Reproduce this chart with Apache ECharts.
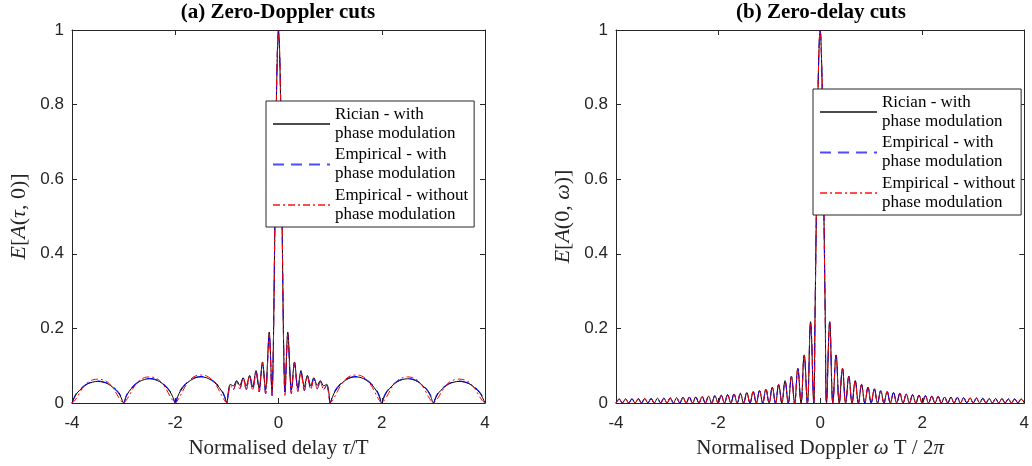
<!DOCTYPE html>
<html>
<head>
<meta charset="utf-8">
<script src="https://cdn.jsdelivr.net/npm/echarts@6/dist/echarts.min.js"></script>
<style>
  html, body { margin: 0; padding: 0; background: #fff; }
  #chart { width: 1032px; height: 466px; }
</style>
</head>
<body>
<div id="chart"></div>
<script>
// ---------- Zero-Doppler cut: E[A(tau,0)], values for tau >= 0 (curve is symmetric) ----------
const delayRicianCenter = [
  [0, 1], [0.025, 0.92], [0.05, 0.72], [0.075, 0.42], [0.1, 0.15], [0.125, 0.03],
  [0.18, 0.19], [0.25, 0.035], [0.31, 0.11], [0.375, 0.04], [0.435, 0.087], [0.5, 0.043],
  [0.56, 0.074], [0.625, 0.046], [0.685, 0.068], [0.75, 0.047], [0.81, 0.06], [0.875, 0.046],
  [0.935, 0.05], [0.975, 0.028], [1, 0]
];
const delayEmpiricalCenter = [
  [0, 1], [0.025, 0.93], [0.05, 0.73], [0.075, 0.43], [0.1, 0.15], [0.125, 0.02],
  [0.18, 0.185], [0.25, 0.025], [0.31, 0.108], [0.375, 0.03], [0.435, 0.085], [0.5, 0.033],
  [0.56, 0.072], [0.625, 0.036], [0.685, 0.066], [0.75, 0.038], [0.81, 0.058], [0.875, 0.036],
  [0.935, 0.048], [0.975, 0.02], [1, 0]
];
const delayRicianArches = [
  [1.05, 0.018], [1.1, 0.032], [1.2, 0.05], [1.3, 0.061], [1.4, 0.068], [1.5, 0.07],
  [1.6, 0.068], [1.7, 0.061], [1.8, 0.05], [1.9, 0.032], [1.95, 0.018], [2, 0],
  [2.05, 0.017], [2.1, 0.03], [2.2, 0.046], [2.3, 0.057], [2.4, 0.063], [2.5, 0.065],
  [2.6, 0.063], [2.7, 0.057], [2.8, 0.046], [2.9, 0.03], [2.95, 0.017], [3, 0],
  [3.05, 0.015], [3.1, 0.027], [3.2, 0.041], [3.3, 0.051], [3.4, 0.056], [3.5, 0.058],
  [3.6, 0.056], [3.7, 0.051], [3.8, 0.041], [3.9, 0.027], [3.95, 0.015], [4, 0]
];
const delayPhaseModArches = [
  [1.05, 0.021], [1.1, 0.035], [1.2, 0.052], [1.3, 0.063], [1.4, 0.069], [1.5, 0.071],
  [1.6, 0.069], [1.7, 0.063], [1.8, 0.052], [1.9, 0.035], [1.95, 0.021], [2, 0],
  [2.05, 0.02], [2.1, 0.032], [2.2, 0.048], [2.3, 0.058], [2.4, 0.064], [2.5, 0.066],
  [2.6, 0.064], [2.7, 0.058], [2.8, 0.048], [2.9, 0.032], [2.95, 0.02], [3, 0],
  [3.05, 0.018], [3.1, 0.029], [3.2, 0.043], [3.3, 0.052], [3.4, 0.057], [3.5, 0.059],
  [3.6, 0.057], [3.7, 0.052], [3.8, 0.043], [3.9, 0.029], [3.95, 0.018], [4, 0]
];
const delayNoPhaseModArches = [
  [1.05, 0.008], [1.1, 0.02], [1.2, 0.046], [1.3, 0.064], [1.4, 0.073], [1.5, 0.075],
  [1.6, 0.073], [1.7, 0.064], [1.8, 0.046], [1.9, 0.02], [1.95, 0.008], [2, 0],
  [2.05, 0.007], [2.1, 0.018], [2.2, 0.043], [2.3, 0.06], [2.4, 0.068], [2.5, 0.07],
  [2.6, 0.068], [2.7, 0.06], [2.8, 0.043], [2.9, 0.018], [2.95, 0.007], [3, 0],
  [3.05, 0.006], [3.1, 0.016], [3.2, 0.039], [3.3, 0.055], [3.4, 0.062], [3.5, 0.064],
  [3.6, 0.062], [3.7, 0.055], [3.8, 0.039], [3.9, 0.016], [3.95, 0.006], [4, 0]
];

// ---------- Zero-delay cut: E[A(0,omega)], values for omega >= 0 ----------
const dopplerMainLobe = [[0, 1], [0.025, 0.935], [0.05, 0.757], [0.075, 0.5], [0.1, 0.234], [0.125, 0]];
const dopplerLobeStep = 0.125;   // spacing of the sidelobe nulls
const dopplerRicianPeaks = [
  0.218, 0.129, 0.092, 0.072, 0.060, 0.049, 0.042, 0.037, 0.033, 0.030, 0.028,
  0.025, 0.024, 0.022, 0.021, 0.019, 0.018, 0.017, 0.016, 0.016, 0.015, 0.014,
  0.014, 0.013, 0.013, 0.012, 0.012, 0.012, 0.011, 0.011, 0.011
];
const dopplerEmpiricalPeaks = [
  0.216, 0.128, 0.093, 0.071, 0.059, 0.050, 0.042, 0.038, 0.033, 0.031, 0.027,
  0.026, 0.023, 0.022, 0.020, 0.020, 0.018, 0.018, 0.016, 0.015, 0.015, 0.014,
  0.013, 0.013, 0.012, 0.012, 0.012, 0.011, 0.011, 0.011, 0.010
];

const seriesNames = [
  'Rician - with phase modulation',
  'Empirical - with phase modulation',
  'Empirical - without phase modulation'
];
// legend text, broken over two lines
const legendLabels = {
  'Rician - with phase modulation': 'Rician - with\nphase modulation',
  'Empirical - with phase modulation': 'Empirical - with\nphase modulation',
  'Empirical - without phase modulation': 'Empirical - without\nphase modulation'
};
const axisRange = { xMin: -4, xMax: 4, xStep: 2, yMin: 0, yMax: 1, yStep: 0.2 };

// ---------- helpers ----------
function mirror(pts) {
  const neg = pts.slice(1).map(p => [-p[0], p[1]]).reverse();
  return neg.concat(pts);
}
function dopplerCurve(peaks) {
  const pts = dopplerMainLobe.slice();
  peaks.forEach((v, i) => {
    const k = i + 1;
    pts.push([(k + 0.5) * dopplerLobeStep, v]);
    pts.push([(k + 1) * dopplerLobeStep, 0]);
  });
  return mirror(pts);
}

const axisColor = '#262626';
const serif = '"Liberation Serif", "Times New Roman", serif';
const sans = '"Liberation Sans", Arial, Helvetica, sans-serif';
function mathRich(size) {
  return {
    i: { fontFamily: serif, fontStyle: 'italic', fontSize: size, color: axisColor },
    n: { fontFamily: serif, fontSize: size, color: axisColor }
  };
}

function xAxesFor(grid, name) {
  const base = {
    type: 'value', gridIndex: grid, min: axisRange.xMin, max: axisRange.xMax, interval: axisRange.xStep,
    axisLine: { onZero: false, lineStyle: { color: axisColor, width: 1 } },
    axisTick: { inside: true, length: 5, lineStyle: { color: axisColor, width: 1 } },
    splitLine: { show: false }
  };
  return [
    Object.assign({}, base, {
      position: 'bottom',
      axisLabel: { fontFamily: sans, fontSize: 17, color: axisColor, margin: 12 },
      name: name, nameLocation: 'middle', nameGap: 35,
      nameTextStyle: { fontFamily: serif, fontSize: 21, color: axisColor, rich: mathRich(21) }
    }),
    Object.assign({}, base, { position: 'top', axisLabel: { show: false } })
  ];
}
function yAxesFor(grid, name) {
  const base = {
    type: 'value', gridIndex: grid, min: axisRange.yMin, max: axisRange.yMax, interval: axisRange.yStep,
    axisLine: { onZero: false, lineStyle: { color: axisColor, width: 1 } },
    axisTick: { inside: true, length: 5, lineStyle: { color: axisColor, width: 1 } },
    splitLine: { show: false }
  };
  return [
    Object.assign({}, base, {
      position: 'left',
      axisLabel: { fontFamily: sans, fontSize: 17, color: axisColor, margin: 8 },
      name: name, nameLocation: 'middle', nameGap: 42,
      nameTextStyle: { fontFamily: serif, fontSize: 22, color: axisColor, rich: mathRich(22) }
    }),
    Object.assign({}, base, { position: 'right', axisLabel: { show: false } })
  ];
}

const lineStyles = [
  { color: '#000000', width: 1, type: 'solid' },
  { color: '#0000ff', width: 1, type: [11, 7] },
  { color: '#ff0000', width: 1, type: [7, 3, 2, 3] }
];
function makeSeries(axisIdx, curves, smooth) {
  return curves.map((data, i) => ({
    type: 'line', name: seriesNames[i], xAxisIndex: axisIdx, yAxisIndex: axisIdx,
    data: data, symbol: 'none', smooth: smooth, lineStyle: lineStyles[i],
    itemStyle: { color: lineStyles[i].color }, z: 2 + i
  }));
}
function legendAt(left, top) {
  return {
    data: seriesNames, orient: 'vertical', left: left, top: top,
    selectedMode: false, backgroundColor: '#fff', borderColor: axisColor, borderWidth: 1,
    borderRadius: 0, padding: [4, 6, 3, 6], itemGap: 2.5, itemWidth: 57, itemHeight: 12,
    itemStyle: { opacity: 0 },
    lineStyle: { opacity: 0.7 },
    textStyle: { fontFamily: serif, fontSize: 17, lineHeight: 19, color: '#000' },
    formatter: n => legendLabels[n],
    z: 10
  };
}

const delayCurves = [
  mirror(delayRicianCenter.concat(delayRicianArches)),
  mirror(delayEmpiricalCenter.concat(delayPhaseModArches)),
  mirror(delayEmpiricalCenter.concat(delayNoPhaseModArches))
];
const dopplerCurves = [
  dopplerCurve(dopplerRicianPeaks),
  dopplerCurve(dopplerEmpiricalPeaks),
  dopplerCurve(dopplerEmpiricalPeaks)
];

const chart = echarts.init(document.getElementById('chart'), null, { renderer: 'canvas' });
chart.setOption({
  animation: false,
  backgroundColor: '#fff',
  grid: [
    { left: 72, top: 30, width: 413, height: 373, containLabel: false },
    { left: 616, top: 30, width: 411, height: 373, containLabel: false }
  ],
  xAxis: xAxesFor(0, 'Normalised delay {i|τ}/T').concat(xAxesFor(1, 'Normalised Doppler {i|ω} T / 2{i|π}')),
  yAxis: yAxesFor(0, '{i|E}[{i|A}({i|τ}, 0)]').concat(yAxesFor(1, '{i|E}[{i|A}(0, {i|ω})]')),
  legend: [legendAt(266, 101), legendAt(813, 89)],
  series: makeSeries(0, delayCurves, 0.3).concat(makeSeries(2, dopplerCurves, 0.4)),
  graphic: [
    { type: 'text', x: 278, y: 13, style: { text: '(a) Zero-Doppler cuts', font: 'bold 21px ' + serif, fill: '#000', textAlign: 'center', textVerticalAlign: 'middle' } },
    { type: 'text', x: 821, y: 13, style: { text: '(b) Zero-delay cuts', font: 'bold 21px ' + serif, fill: '#000', textAlign: 'center', textVerticalAlign: 'middle' } }
  ]
});
</script>
</body>
</html>
